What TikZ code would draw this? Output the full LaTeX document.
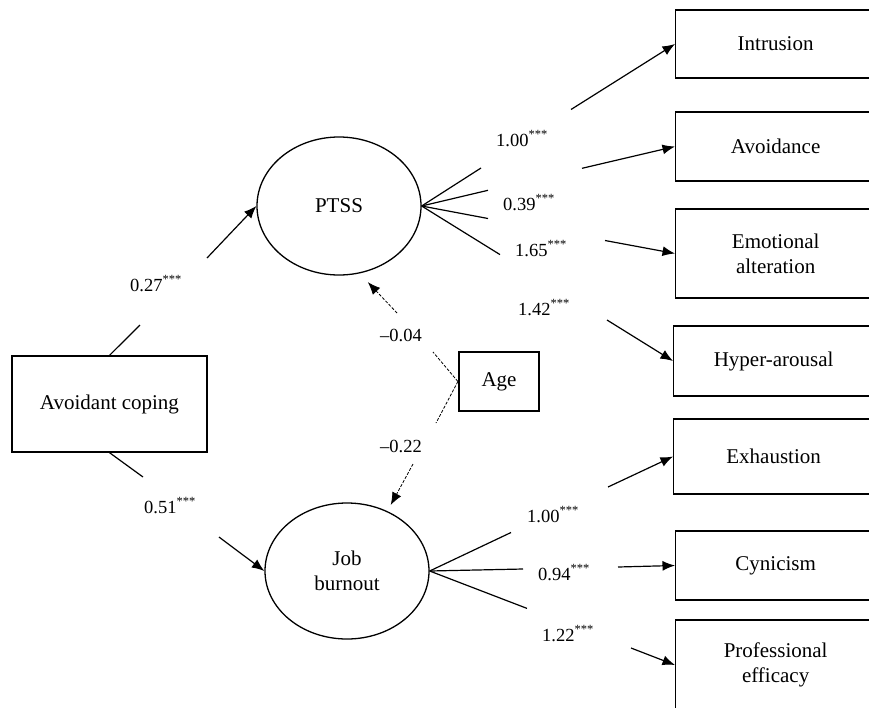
\documentclass[tikz,border=0pt]{standalone}
\usepackage{fontspec}
\setmainfont{Liberation Serif}
\usetikzlibrary{shapes.geometric,arrows.meta}
\newcommand{\sig}{\raisebox{7.5pt}{\fontsize{12.5pt}{12.5pt}\selectfont ***}}
\begin{document}
\begin{tikzpicture}[x=1pt,y=-1pt,
  every node/.style={font=\fontsize{21pt}{25pt}\selectfont, inner sep=0pt},
  box/.style={draw, line width=1.3pt, rectangle, align=center},
  lat/.style={draw, ellipse, line width=1.3pt, align=center},
  lab/.style={anchor=base west, font=\fontsize{18.5pt}{20pt}\selectfont},
  ln/.style={line width=1.2pt},
  arr/.style={line width=1.2pt, -{Latex[length=12.5pt,width=10pt]}},
  dsh/.style={line width=0.8pt, dash pattern=on 3pt off 1.6pt},
  darr/.style={dsh, -{Latex[length=12.5pt,width=10pt]}},
]
\useasboundingbox (0,0) rectangle (869,707);
\clip (0,0) rectangle (869,707);

% main nodes
\node[box, minimum width=195pt, minimum height=96pt] (ac) at (109.5,404) {Avoidant coping};
\node[lat, minimum width=164pt, minimum height=138pt] (ptss) at (339,206) {PTSS};
\node[lat, minimum width=164pt, minimum height=136pt] (jb) at (347,571) {Job\\burnout};
\node[box, line width=2.2pt, minimum width=80pt, minimum height=59pt] (age) at (499,381.5) {Age};

% indicators
\node[box, minimum width=200pt, minimum height=68pt, anchor=west] (intr) at (675,44) {Intrusion};
\node[box, minimum width=200pt, minimum height=69pt, anchor=west] (avo) at (675,146.5) {Avoidance};
\node[box, minimum width=200pt, minimum height=89pt, anchor=west] (emo) at (675,253.5) {Emotional\\alteration};
\node[box, minimum width=200pt, minimum height=70pt, anchor=west] (hyp) at (673,361) {Hyper-arousal};
\node[box, minimum width=200pt, minimum height=75pt, anchor=west] (exh) at (673,456.5) {Exhaustion};
\node[box, minimum width=200pt, minimum height=69pt, anchor=west] (cyn) at (675,565.5) {Cynicism};
\node[box, minimum width=200pt, minimum height=90pt, anchor=west] (pro) at (675,665) {Professional\\efficacy};

% gap coordinates
\coordinate (a1) at (140,325);   \coordinate (a2) at (207,258);
\coordinate (b1) at (143,477);   \coordinate (b2) at (219,537);
\coordinate (c1) at (433,352);   \coordinate (c2) at (397,313);
\coordinate (d1) at (436,423);   \coordinate (d2) at (413,464);
\coordinate (p1) at (481,168);   \coordinate (p2) at (571,109.5);
\coordinate (q1) at (488,190.3); \coordinate (q2) at (582,168.3);
\coordinate (r1) at (488,218.5); \coordinate (r2) at (605,240.5);
\coordinate (s1) at (500,254.6); \coordinate (s2) at (607,320);
\coordinate (t1) at (511,532.5); \coordinate (t2) at (608,487);
\coordinate (u1) at (523,569);   \coordinate (u2) at (618,567);
\coordinate (v1) at (527,608.4); \coordinate (v2) at (631,648);

% structural paths
\draw[ln] (ac.north) -- (a1);  \draw[arr] (a2) -- (ptss.west);
\draw[ln] (ac.south) -- (b1);  \draw[arr] (b2) -- (jb.west);

% age paths
\draw[dsh] (age.west) -- (c1);  \draw[darr, shorten >=12pt] (c2) -- (ptss.-73);
\draw[dsh] (age.west) -- (d1);  \draw[darr, shorten >=7pt] (d2) -- (jb.56.6);

% loadings
\draw[ln] (ptss.east) -- (p1);  \draw[arr] (p2) -- (intr.west);
\draw[ln] (ptss.east) -- (q1);  \draw[arr] (q2) -- (avo.west);
\draw[ln] (ptss.east) -- (r1);  \draw[arr] (r2) -- (emo.west);
\draw[ln] (ptss.east) -- (s1);  \draw[arr] (s2) -- (hyp.west);
\draw[ln] (jb.east) -- (t1);    \draw[arr] (t2) -- (exh.west);
\draw[ln] (jb.east) -- (u1);    \draw[arr] (u2) -- (cyn.west);
\draw[ln] (jb.east) -- (v1);    \draw[arr] (v2) -- (pro.west);

% labels
\node[lab] (l1) at (130,291) {0.27\sig};
\node[lab] (l2) at (144,513) {0.51\sig};
\node[lab] (l3) at (380,341) {–0.04};
\node[lab] (l4) at (380,452) {–0.22};
\node[lab] (l5) at (496,146) {1.00\sig};
\node[lab] (l6) at (503,210) {0.39\sig};
\node[lab] (l7) at (515,256) {1.65\sig};
\node[lab] (l8) at (518,315) {1.42\sig};
\node[lab] (l9) at (527,522) {1.00\sig};
\node[lab] (l10) at (538,580) {0.94\sig};
\node[lab] (l11) at (542,641) {1.22\sig};
\end{tikzpicture}
\end{document}
